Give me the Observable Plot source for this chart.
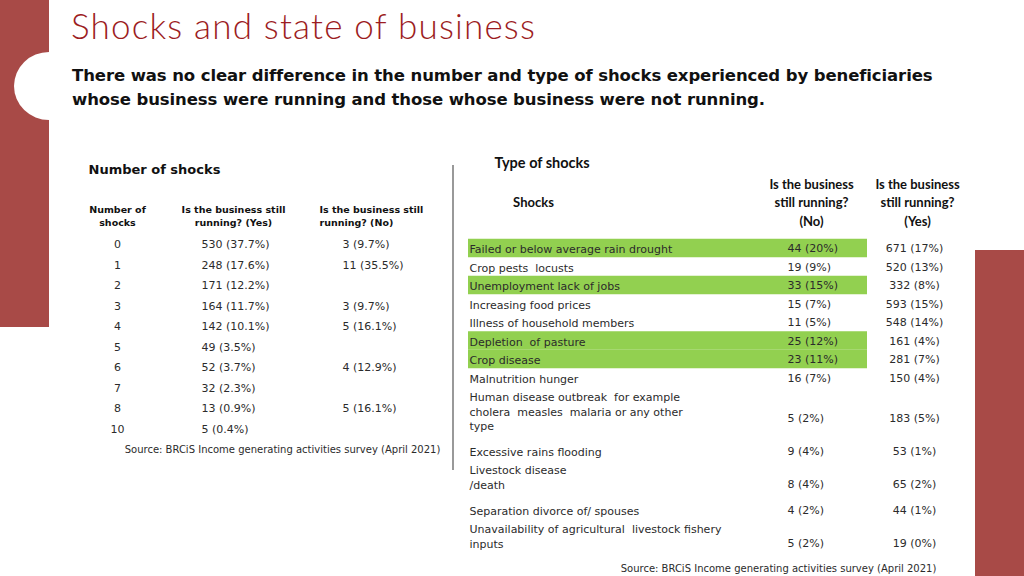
<!DOCTYPE html>
<html><head><meta charset="utf-8">
<script src="https://cdn.jsdelivr.net/npm/d3@7"></script>
<script src="https://cdn.jsdelivr.net/npm/@observablehq/plot@0.6"></script>
<style>
html,body{margin:0;padding:0;background:#fff;}
body{width:1024px;height:576px;position:relative;overflow:hidden;font-family:Lato,"Open Sans",sans-serif;}
#barL{position:absolute;left:0;top:0;width:49px;height:327px;background:#a84a47;}
#notch{position:absolute;left:14px;top:52px;width:70px;height:68px;border-radius:50%;background:#fff;}
#barR{position:absolute;left:975px;top:250px;width:49px;height:326px;background:#a84a47;}
#title{position:absolute;left:71px;top:4px;font-size:35px;font-weight:300;letter-spacing:1.2px;color:#9c1c22;line-height:42px;white-space:nowrap;}
#subtitle{position:absolute;left:72px;top:64px;font-family:"DejaVu Sans",sans-serif;font-size:16.5px;font-weight:700;letter-spacing:-0.1px;color:#111;line-height:24px;white-space:nowrap;}
#sep{position:absolute;left:452px;top:165px;width:1.5px;height:305px;background:#999;}
#chart{position:absolute;left:0;top:140px;}
svg text{white-space:pre;}
</style></head>
<body>
<div id="barL"></div><div id="notch"></div><div id="barR"></div>
<div id="title">Shocks and state of business</div>
<div id="subtitle">There was no clear difference in the number and type of shocks experienced by beneficiaries<br>whose business were running and those whose business were not running.</div>
<div id="sep"></div>
<div id="chart"></div>
<script>
// ---- Left table: number of shocks ----
const shockCounts = [0, 1, 2, 3, 4, 5, 6, 7, 8, 10];
const yesCount = [530, 248, 171, 164, 142, 49, 52, 32, 13, 5];
const yesPct = [37.7, 17.6, 12.2, 11.7, 10.1, 3.5, 3.7, 2.3, 0.9, 0.4];
const noCount = [3, 11, null, 3, 5, null, 4, null, 5, null];
const noPct = [9.7, 35.5, null, 9.7, 16.1, null, 12.9, null, 16.1, null];
const leftHeaders = ["Number of\nshocks", "Is the business still\nrunning? (Yes)", "Is the business still\nrunning? (No)"];
const leftTitle = "Number of shocks";

// ---- Right table: type of shocks ----
const shockTypes = [
  "Failed or below average rain drought",
  "Crop pests  locusts",
  "Unemployment lack of jobs",
  "Increasing food prices",
  "Illness of household members",
  "Depletion  of pasture",
  "Crop disease",
  "Malnutrition hunger",
  "Human disease outbreak  for example\ncholera  measles  malaria or any other\ntype",
  "Excessive rains flooding",
  "Livestock disease\n/death",
  "Separation divorce of/ spouses",
  "Unavailability of agricultural  livestock fishery\ninputs"
];
const typeNoCount = [44, 19, 33, 15, 11, 25, 23, 16, 5, 9, 8, 4, 5];
const typeNoPct = [20, 9, 15, 7, 5, 12, 11, 7, 2, 4, 4, 2, 2];
const typeYesCount = [671, 520, 332, 593, 548, 161, 281, 150, 183, 53, 65, 44, 19];
const typeYesPct = [17, 13, 8, 15, 14, 4, 7, 4, 5, 1, 2, 1, 0];
const highlighted = ["Failed or below average rain drought", "Unemployment lack of jobs", "Depletion  of pasture", "Crop disease"];
const rightHeaders = ["Shocks", "Is the business\nstill running?\n(No)", "Is the business\nstill running?\n(Yes)"];
const rightTitle = "Type of shocks";
const source = "Source: BRCiS Income generating activities survey (April 2021)";

// ---- layout (positions only) ----
const L = {countX:117, yesX:201, noX:342, hdrX:[117, 233, 319], row0:244, step:20.5, hdrY:215,
           titleX:88, titleY:169, srcX:282, srcY:449};
const R = {labelX:469, noX:787, yesX:914, hdrX:[533, 811, 917], hdrY:201, row0:248, lineH:14.5, pad:4,
           hlX1:468, hlX2:867, titleX:494, titleY:163, srcX:778, srcY:568};

const fmt = (n, p, d) => n == null ? "" : `${n} (${p.toFixed(d)}%)`;
const leftRows = shockCounts.map((c, i) => ({
  count: String(c), yes: fmt(yesCount[i], yesPct[i], 1), no: fmt(noCount[i], noPct[i], 1),
  y: L.row0 + i * L.step
}));
const leftHdr = leftHeaders.map((h, i) => ({text: h, x: L.hdrX[i], col: i}));

let rowTop = R.row0;
const rightRows = shockTypes.map((s, i) => {
  const n = s.split("\n").length;
  const row = {label: s, n, rowTop, center: rowTop + (n - 1) * R.lineH / 2, vy: rowTop + (n > 1 ? n / 2 * R.lineH : 0),
               no: fmt(typeNoCount[i], typeNoPct[i], 0), yes: fmt(typeYesCount[i], typeYesPct[i], 0),
               hl: highlighted.includes(s)};
  rowTop += (n + (n > 1 ? 0.5 : 0)) * R.lineH + R.pad;
  return row;
});
const rightHdr = rightHeaders.map((h, i) => ({text: h, x: R.hdrX[i]}));

const gothic = "'DejaVu Sans', sans-serif";
const calibri = "Lato, 'Open Sans', sans-serif";
const body = {fontFamily: gothic, fontSize: 11, fill: "#2b2b2b"};
const hdrStyle = {y: L.hdrY, text: "text", lineHeight: 1.4, fontFamily: gothic, fontSize: 9.5, fontWeight: "bold", fill: "#111"};

const chart = Plot.plot({
  width: 1024, height: 436, margin: 0,
  x: {domain: [0, 1024], range: [0, 1024], axis: null},
  y: {domain: [140, 576], range: [0, 436], axis: null},
  marks: [
    // highlight bands
    Plot.rect(rightRows.filter(d => d.hl), {x1: R.hlX1, x2: R.hlX2, y1: d => d.center - (R.lineH + R.pad) / 2, y2: d => d.center + (R.lineH + R.pad) / 2, fill: "#92d050"}),
    // left section title and headers
    Plot.text([leftTitle], {x: L.titleX, y: L.titleY, text: d => d, textAnchor: "start", fontFamily: gothic, fontSize: 13, fontWeight: "bold", fill: "#111"}),
    Plot.text(leftHdr.filter(d => d.col < 2), {x: "x", ...hdrStyle}),
    Plot.text(leftHdr.filter(d => d.col === 2), {x: "x", textAnchor: "start", ...hdrStyle}),
    // left table cells
    Plot.text(leftRows, {x: L.countX, y: "y", text: "count", ...body}),
    Plot.text(leftRows, {x: L.yesX, y: "y", text: "yes", textAnchor: "start", ...body}),
    Plot.text(leftRows, {x: L.noX, y: "y", text: "no", textAnchor: "start", ...body}),
    Plot.text([source], {x: L.srcX, y: L.srcY, text: d => d, ...body, fontSize: 10}),
    // right section title and headers
    Plot.text([rightTitle], {x: R.titleX, y: R.titleY, text: d => d, textAnchor: "start", fontFamily: calibri, fontSize: 14.5, fontWeight: "bold", fill: "#111"}),
    Plot.text(rightHdr, {x: "x", y: R.hdrY, text: "text", lineHeight: 1.4, fontFamily: calibri, fontSize: 13, fontWeight: "bold", fill: "#111"}),
    // right table cells
    Plot.text(rightRows, {x: R.labelX, y: "center", text: "label", textAnchor: "start", lineHeight: R.lineH / 11, ...body}),
    Plot.text(rightRows, {x: R.noX, y: "vy", text: "no", textAnchor: "start", ...body}),
    Plot.text(rightRows, {x: R.yesX, y: "vy", text: "yes", ...body}),
    Plot.text([source], {x: R.srcX, y: R.srcY, text: d => d, ...body, fontSize: 10})
  ]
});
document.getElementById("chart").appendChild(chart);
</script>
</body></html>
